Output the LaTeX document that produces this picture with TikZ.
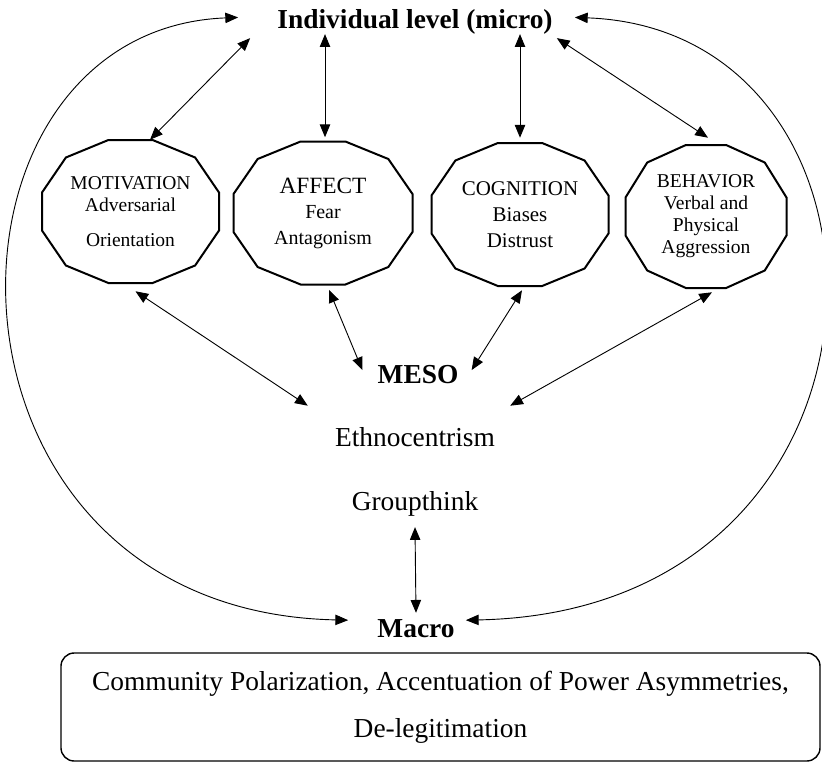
\documentclass[tikz,border=0pt]{standalone}
\usepackage{fontspec}
\setmainfont{Liberation Serif}
\usetikzlibrary{arrows.meta}

\tikzset{
	tier/.style  = {font=\bfseries\fontsize{19.5}{23}\selectfont, inner sep=0pt},
	term/.style  = {font=\fontsize{19.5}{23}\selectfont, inner sep=0pt},
	facet/.style = {inner sep=0pt, minimum height=35.75mm, align=center},
	rim/.style   = {line width=0.5mm, line join=miter},
	link/.style  = {line width=0.65pt},
}

\begin{document}
\begin{tikzpicture}[x=0.25mm, y=-0.25mm, >={Triangle[length=3.2mm,width=2.6mm]}]
	\useasboundingbox (0,0) rectangle (822,763);

	\node[tier, anchor=base] (micro) at (415,28)  {Individual level (micro)};
	\node[tier, anchor=base] (meso)  at (418,383) {MESO};
	\node[tier, anchor=base] (macro) at (416,637) {Macro};

	\node[term, anchor=base] (ethno) at (415,446) {Ethnocentrism};
	\node[term, anchor=base] (group) at (415,510) {Groupthink};

	\node[facet, minimum width=44.25mm, font=\fontsize{13.9}{15.6}\selectfont] (mot) at (130.5,211.5) {MOTIVATION\\Adversarial\\[9pt]Orientation};
	\node[facet, minimum width=44.75mm, font=\fontsize{14.2}{18.1}\selectfont] (aff) at (323,213)     {{\fontsize{16.6}{18}\selectfont AFFECT}\\Fear\\Antagonism};
	\node[facet, minimum width=44.25mm, font=\fontsize{14.9}{18.4}\selectfont] (cog) at (520,214.5)   {COGNITION\\Biases\\Distrust};
	\node[facet, minimum width=40.25mm, font=\fontsize{13.9}{15.6}\selectfont] (beh) at (706,216.5)   {BEHAVIOR\\Verbal and\\Physical\\Aggression};

	\node[draw, rounded corners=3.3mm, line width=1pt, minimum width=189.75mm, minimum height=27mm,
	      align=center, font=\fontsize{19.5}{33.4}\selectfont] (polar) at (440.5,707)
	      {Community Polarization, Accentuation of Power Asymmetries,\\De-legitimation};

	% twelve-sided outlines round the facets
	\foreach \n/\a in {mot/88.5, aff/89.5, cog/88.5, beh/80.5}
		\draw[rim, shift={(\n.center)}]
			(-0.25*\a,-71.5) -- (0.25*\a,-71.5) -- (0.73*\a,-54) -- (\a,-19) -- (\a,19) -- (0.73*\a,54)
			-- (0.25*\a,71.5) -- (-0.25*\a,71.5) -- (-0.73*\a,54) -- (-\a,19) -- (-\a,-19) -- (-0.73*\a,-54) -- cycle;

	% micro level to the facets
	\path [link, <->] ([shift={(-27,4)}]micro.south west) edge ([shift={(19.5,0)}]mot.north);
	\path [link, <->] ([shift={(2,0)}]aff.north |- micro.south) edge ([shift={(2,-4)}]aff.north);
	\path [link, <->] (cog.north |- micro.south)           edge ([shift={(0,-5)}]cog.north);
	\path [link, <->] ([shift={(4,4)}]micro.south east)    edge ([shift={(2,-7)}]beh.north);

	% facets to the meso level
	\path [link, <->] ([shift={(5,8)}]mot.south) edge ([shift={(-27,-21)}]ethno.north west);
	\path [link, <->] ([shift={(6,5)}]aff.south) edge ([shift={(-15,-4)}]meso.west);
	\path [link, <->] ([shift={(2,4)}]cog.south) edge ([shift={(13,-4)}]meso.east);
	\path [link, <->] ([shift={(6,4)}]beh.south) edge ([shift={(15,-21)}]ethno.north east);

	\path [link, <->] ([shift={(0,11)}]group.south) edge ([shift={(0,-6)}]macro.north);

	% micro and macro joined round the outside
	\draw [link, <->] ([shift={(-39,-4)}]micro.west) .. controls (-84,30) and (-84,611) .. ([shift={(-29,-8)}]macro.west);
	\draw [link, <->] ([shift={(22,-4)}]micro.east)  .. controls (923,30) and (923,611)  .. ([shift={(11,-8)}]macro.east);
\end{tikzpicture}
\end{document}
